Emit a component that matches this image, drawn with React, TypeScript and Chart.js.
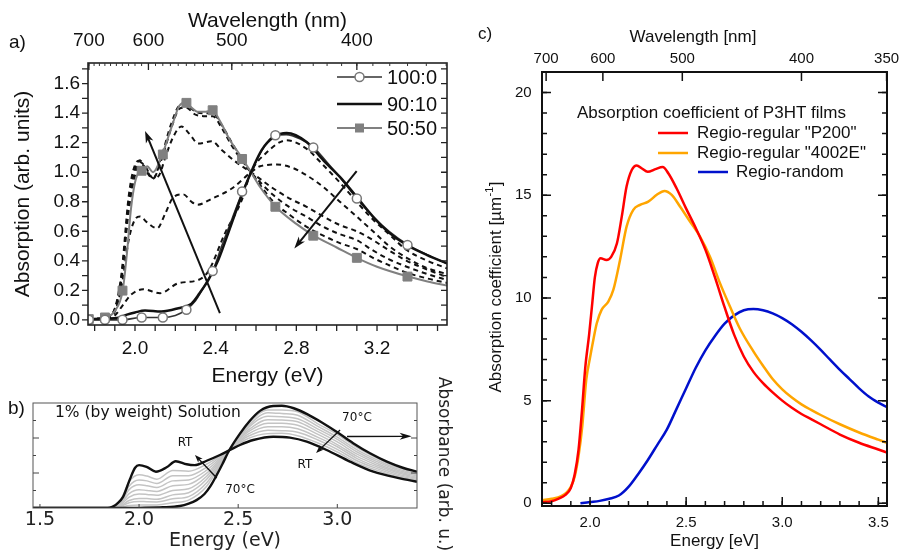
import React, { useEffect, useRef } from 'react';
import { Chart, registerables } from 'chart.js';

Chart.register(...registerables);

const FA = '"Liberation Sans", Arial, Helvetica, sans-serif';
const FB = '"DejaVu Sans", Verdana, sans-serif';
const HC = 1240; // eV*nm, used only to place wavelength ticks

// ================= Panel a data =================
const aTopWavelengths = [700, 600, 500, 400];
const aEnergyTicks = [2.0, 2.4, 2.8, 3.2];
const aAbsTicks = [0.0, 0.2, 0.4, 0.6, 0.8, 1.0, 1.2, 1.4, 1.6];

const aE_100_0 = [1.767, 1.85, 1.94, 2.03, 2.135, 2.2, 2.253, 2.3, 2.34, 2.385, 2.43, 2.48, 2.534, 2.58, 2.63, 2.694, 2.75, 2.82, 2.887, 2.95, 3.02, 3.099, 3.18, 3.26, 3.355, 3.45, 3.547];
const aV_100_0 = [0.0, 0.0, 0.0, 0.016, 0.016, 0.03, 0.068, 0.13, 0.22, 0.33, 0.5, 0.68, 0.87, 1.01, 1.15, 1.25, 1.255, 1.225, 1.167, 1.07, 0.96, 0.822, 0.7, 0.6, 0.507, 0.44, 0.38];
const aMarkE = [1.771, 1.851, 1.938, 2.033, 2.138, 2.255, 2.385, 2.531, 2.696, 2.884, 3.1, 3.351];
const aMarkV_100_0 = [0.0, 0.0, 0.0, 0.016, 0.016, 0.068, 0.33, 0.87, 1.25, 1.167, 0.822, 0.507];
const aMarkV_50_50 = [0.005, 0.016, 0.198, 1.01, 1.12, 1.47, 1.42, 1.09, 0.766, 0.57, 0.42, 0.293];

const aE_90_10 = [1.767, 1.85, 1.92, 1.96, 2.0, 2.05, 2.13, 2.215, 2.28, 2.32, 2.364, 2.413, 2.479, 2.545, 2.628, 2.69, 2.752, 2.851, 2.934, 3.016, 3.099, 3.181, 3.264, 3.347, 3.446, 3.547];
const aV_90_10 = [0.005, 0.008, 0.015, 0.035, 0.05, 0.063, 0.056, 0.079, 0.11, 0.18, 0.27, 0.405, 0.653, 0.9, 1.15, 1.24, 1.266, 1.205, 1.08, 0.968, 0.833, 0.698, 0.586, 0.507, 0.44, 0.383];

const aE_50_50 = [1.767, 1.851, 1.9, 1.939, 1.96, 1.98, 2.0, 2.02, 2.041, 2.06, 2.09, 2.135, 2.18, 2.22, 2.248, 2.27, 2.31, 2.35, 2.385, 2.42, 2.47, 2.534, 2.575, 2.62, 2.698, 2.8, 2.887, 3.0, 3.099, 3.2, 3.355, 3.45, 3.547];
const aV_50_50 = [0.005, 0.016, 0.06, 0.198, 0.45, 0.75, 0.93, 1.0, 1.01, 1.04, 1.0, 1.12, 1.3, 1.45, 1.47, 1.45, 1.41, 1.41, 1.42, 1.35, 1.22, 1.09, 1.0, 0.9, 0.766, 0.65, 0.57, 0.49, 0.42, 0.36, 0.293, 0.26, 0.232];

const aE_d5 = [1.767, 1.85, 1.9, 1.94, 1.98, 2.041, 2.124, 2.215, 2.314, 2.364, 2.446, 2.529, 2.575, 2.65, 2.752, 2.85, 2.934, 3.016, 3.099, 3.18, 3.26, 3.347, 3.45, 3.547];
const aV_d5 = [0.005, 0.01, 0.03, 0.1, 0.17, 0.207, 0.18, 0.248, 0.27, 0.33, 0.586, 0.81, 1.0, 1.13, 1.216, 1.16, 1.047, 0.93, 0.8, 0.68, 0.58, 0.473, 0.4, 0.349];

const aE_d4 = [1.767, 1.88, 1.93, 1.97, 2.0, 2.025, 2.06, 2.11, 2.15, 2.19, 2.24, 2.28, 2.31, 2.38, 2.48, 2.575, 2.62, 2.703, 2.78, 2.85, 2.934, 3.016, 3.099, 3.18, 3.26, 3.347, 3.45, 3.547];
const aV_d4 = [0.005, 0.02, 0.2, 0.55, 0.68, 0.7, 0.66, 0.62, 0.72, 0.83, 0.85, 0.8, 0.78, 0.82, 0.89, 1.0, 1.04, 1.052, 1.03, 0.98, 0.9, 0.8, 0.7, 0.6, 0.5, 0.42, 0.35, 0.31];

const aE_d3 = [1.767, 1.88, 1.93, 1.97, 2.0, 2.025, 2.05, 2.09, 2.12, 2.15, 2.19, 2.23, 2.27, 2.314, 2.38, 2.43, 2.5, 2.575, 2.686, 2.77, 2.851, 2.934, 3.016, 3.099, 3.18, 3.26, 3.347, 3.45, 3.547];
const aV_d3 = [0.005, 0.03, 0.25, 0.75, 0.98, 1.07, 1.04, 0.96, 0.98, 1.1, 1.24, 1.31, 1.26, 1.194, 1.21, 1.15, 1.07, 1.0, 0.89, 0.82, 0.766, 0.7, 0.642, 0.6, 0.54, 0.47, 0.4, 0.34, 0.29];

const aE_d2 = [1.767, 1.88, 1.93, 1.97, 2.0, 2.025, 2.05, 2.09, 2.13, 2.18, 2.22, 2.25, 2.3, 2.34, 2.385, 2.43, 2.48, 2.534, 2.575, 2.686, 2.77, 2.851, 2.934, 3.016, 3.099, 3.18, 3.26, 3.347, 3.45, 3.547];
const aV_d2 = [0.005, 0.03, 0.25, 0.8, 1.02, 1.08, 1.03, 0.96, 1.08, 1.3, 1.43, 1.44, 1.39, 1.38, 1.38, 1.3, 1.18, 1.07, 1.0, 0.845, 0.76, 0.698, 0.63, 0.58, 0.54, 0.47, 0.41, 0.36, 0.31, 0.27];

const aE_d1 = [1.767, 1.88, 1.93, 1.97, 2.0, 2.025, 2.05, 2.09, 2.13, 2.18, 2.22, 2.25, 2.3, 2.34, 2.385, 2.43, 2.48, 2.534, 2.575, 2.686, 2.768, 2.851, 2.934, 3.016, 3.099, 3.18, 3.26, 3.347, 3.45, 3.547];
const aV_d1 = [0.005, 0.03, 0.28, 0.85, 1.05, 1.08, 1.02, 0.957, 1.1, 1.33, 1.45, 1.46, 1.41, 1.4, 1.4, 1.32, 1.2, 1.08, 1.0, 0.8, 0.71, 0.63, 0.57, 0.52, 0.48, 0.42, 0.37, 0.32, 0.28, 0.25];

const aLegendLabels = ['100:0', '90:10', '50:50'];

// ================= Panel b data =================
const bEnergyTicks = [1.5, 2.0, 2.5, 3.0];
const bE_RT = [1.465, 1.83, 1.853, 1.87, 1.887, 1.92, 1.954, 1.98, 2.0, 2.038, 2.085, 2.139, 2.185, 2.24, 2.28, 2.341, 2.408, 2.459, 2.509, 2.576, 2.677, 2.761, 2.846, 2.946, 3.064, 3.182, 3.316, 3.402];
const bV_RT = [0, 0, 0.005, 0.02, 0.045, 0.13, 0.33, 0.46, 0.49, 0.47, 0.415, 0.465, 0.535, 0.5, 0.49, 0.54, 0.606, 0.663, 0.72, 0.777, 0.815, 0.804, 0.758, 0.663, 0.53, 0.415, 0.339, 0.3];
const bE_70C = [1.465, 1.9, 2.0, 2.12, 2.206, 2.25, 2.29, 2.33, 2.36, 2.39, 2.42, 2.455, 2.509, 2.56, 2.61, 2.677, 2.72, 2.78, 2.85, 2.92, 3.0, 3.08, 3.165, 3.25, 3.33, 3.402];
const bV_70C = [0, 0, 0.002, 0.008, 0.023, 0.05, 0.09, 0.16, 0.25, 0.37, 0.5, 0.66, 0.85, 1.0, 1.11, 1.165, 1.168, 1.14, 1.07, 0.98, 0.865, 0.74, 0.625, 0.53, 0.46, 0.415];
const bE_gray = [1.85, 1.9, 1.95, 2.0, 2.04, 2.09, 2.17, 2.25, 2.34, 2.45, 2.55, 2.65, 2.72, 2.8, 2.9, 3.0, 3.1, 3.2, 3.3, 3.402];
const bV_gray1 = [0, 0.055, 0.3, 0.38, 0.365, 0.33, 0.43, 0.42, 0.5, 0.66, 0.795, 0.85, 0.853, 0.825, 0.745, 0.64, 0.515, 0.43, 0.36, 0.31];
const bV_gray2 = [0, 0.045, 0.25, 0.32, 0.31, 0.28, 0.37, 0.37, 0.465, 0.66, 0.82, 0.89, 0.884, 0.865, 0.78, 0.67, 0.54, 0.45, 0.375, 0.325];
const bV_gray3 = [0, 0.037, 0.21, 0.265, 0.255, 0.235, 0.31, 0.32, 0.43, 0.655, 0.845, 0.93, 0.93, 0.905, 0.81, 0.7, 0.565, 0.47, 0.39, 0.34];
const bV_gray4 = [0, 0.03, 0.165, 0.21, 0.2, 0.19, 0.255, 0.27, 0.395, 0.655, 0.87, 0.97, 0.968, 0.945, 0.845, 0.725, 0.59, 0.49, 0.405, 0.35];
const bV_gray5 = [0, 0.022, 0.125, 0.16, 0.155, 0.145, 0.2, 0.22, 0.36, 0.655, 0.89, 1.01, 1.006, 0.985, 0.875, 0.755, 0.615, 0.51, 0.42, 0.365];
const bV_gray6 = [0, 0.016, 0.085, 0.11, 0.108, 0.1, 0.15, 0.175, 0.325, 0.65, 0.915, 1.05, 1.044, 1.02, 0.905, 0.785, 0.64, 0.53, 0.435, 0.38];
const bV_gray7 = [0, 0.01, 0.06, 0.075, 0.072, 0.07, 0.105, 0.13, 0.285, 0.65, 0.935, 1.09, 1.08, 1.06, 0.935, 0.81, 0.665, 0.55, 0.45, 0.39];
const bV_gray8 = [0, 0.005, 0.028, 0.035, 0.035, 0.035, 0.06, 0.09, 0.245, 0.65, 0.96, 1.12, 1.12, 1.1, 0.965, 0.84, 0.69, 0.57, 0.465, 0.405];

// ================= Panel c data =================
const cTopWavelengths = [700, 600, 500, 400, 350];
const cEnergyTicks = [2.0, 2.5, 3.0, 3.5];
const cAbsTicks = [0, 5, 10, 15, 20];
const cE_P200 = [1.75, 1.8, 1.84, 1.87, 1.9, 1.92, 1.94, 1.957, 1.975, 1.995, 2.01, 2.025, 2.04, 2.055, 2.085, 2.11, 2.14, 2.165, 2.19, 2.217, 2.243, 2.27, 2.3, 2.34, 2.378, 2.407, 2.45, 2.5, 2.55, 2.6, 2.65, 2.7, 2.75, 2.8, 2.85, 2.9, 2.95, 3.0, 3.05, 3.1, 3.15, 3.2, 3.3, 3.4, 3.5, 3.545];
const cV_P200 = [0.05, 0.1, 0.24, 0.4, 0.75, 1.4, 2.6, 4.4, 6.6, 8.2, 9.6, 11.0, 11.7, 11.93, 11.85, 12.0, 12.66, 13.96, 15.42, 16.23, 16.45, 16.3, 16.14, 16.27, 16.37, 16.07, 15.34, 14.35, 13.4, 12.35, 11.0, 9.55, 8.2, 7.15, 6.4, 5.85, 5.4, 5.0, 4.65, 4.35, 4.1, 3.85, 3.35, 2.95, 2.62, 2.47];
const cE_4002E = [1.75, 1.8, 1.85, 1.88, 1.9, 1.92, 1.94, 1.96, 1.98, 2.0, 2.02, 2.035, 2.06, 2.095, 2.121, 2.156, 2.19, 2.225, 2.26, 2.303, 2.347, 2.387, 2.425, 2.468, 2.52, 2.572, 2.624, 2.676, 2.728, 2.78, 2.85, 2.9, 2.95, 3.0, 3.05, 3.1, 3.15, 3.2, 3.3, 3.4, 3.5, 3.545];
const cV_4002E = [0.15, 0.22, 0.35, 0.55, 0.8, 1.3, 2.3, 3.8, 6.0, 7.1, 8.1, 8.77, 9.42, 9.82, 10.39, 11.85, 13.47, 14.29, 14.53, 14.69, 15.02, 15.21, 15.02, 14.45, 13.72, 12.99, 12.01, 10.72, 9.58, 8.5, 7.4, 6.7, 6.05, 5.55, 5.15, 4.82, 4.55, 4.3, 3.85, 3.45, 3.1, 2.95];
const cE_RRa = [1.95, 2.0, 2.05, 2.1, 2.15, 2.2, 2.25, 2.3, 2.35, 2.4, 2.45, 2.5, 2.55, 2.6, 2.65, 2.7, 2.75, 2.8, 2.85, 2.9, 2.95, 3.0, 3.05, 3.1, 3.15, 3.2, 3.25, 3.3, 3.35, 3.4, 3.45, 3.5, 3.544];
const cV_RRa = [0.0, 0.06, 0.12, 0.22, 0.38, 0.8, 1.42, 2.1, 2.85, 3.6, 4.6, 5.6, 6.6, 7.45, 8.15, 8.75, 9.15, 9.4, 9.46, 9.4, 9.25, 9.02, 8.72, 8.35, 7.93, 7.47, 6.98, 6.5, 6.05, 5.6, 5.2, 4.9, 4.68];
const cLegendTitle = 'Absorption coefficient of P3HT films';
const cLegendLabels = ['Regio-regular "P200"', 'Regio-regular "4002E"', 'Regio-random'];

// ================= helpers =================
const zip = (xs: number[], ys: number[]) => xs.map((x, i) => ({ x, y: ys[i] }));
const setTicks = (vals: number[]) => (s: any) => { s.ticks = vals.map((v) => ({ value: v })); };
const fix = (size: number, horizontal: boolean) => (s: any) => {
  if (horizontal) s.height = size; else s.width = size;
  s.paddingLeft = 0; s.paddingRight = 0; s.paddingTop = 0; s.paddingBottom = 0;
};
const lineDs = (xs: number[], ys: number[], color: string, width: number, dash: number[] = []) => ({
  data: zip(xs, ys), showLine: true, borderColor: color, borderWidth: width, borderDash: dash,
  pointRadius: 0, pointHoverRadius: 0, cubicInterpolationMode: 'monotone', fill: false,
});
const markDs = (xs: number[], ys: number[], style: string, r: number, fillC: string, strokeC: string, bw: number) => ({
  data: zip(xs, ys), showLine: false, pointStyle: style, pointRadius: r, pointHoverRadius: r,
  pointBackgroundColor: fillC, pointBorderColor: strokeC, pointBorderWidth: bw,
});
const noGrid = { display: false, drawTicks: false };
const noBorder = { display: false };
const range = (a: number, b: number, step: number) => {
  const out: number[] = [];
  for (let v = a; v <= b + 1e-9; v += step) out.push(Math.round(v * 1000) / 1000);
  return out;
};

function tickMarks(chart: any, scaleId: string, edge: string, values: number[], len: number, outward: boolean, lw: number, color: string) {
  const ctx = chart.ctx; const s = chart.scales[scaleId]; const a = chart.chartArea;
  ctx.save(); ctx.strokeStyle = color; ctx.lineWidth = lw; ctx.beginPath();
  for (const v of values) {
    if (v < s.min || v > s.max) continue;
    const p = s.getPixelForValue(v);
    if (edge === 'bottom') { ctx.moveTo(p, a.bottom); ctx.lineTo(p, a.bottom + (outward ? len : -len)); }
    else if (edge === 'top') { ctx.moveTo(p, a.top); ctx.lineTo(p, a.top + (outward ? -len : len)); }
    else if (edge === 'left') { ctx.moveTo(a.left, p); ctx.lineTo(a.left + (outward ? -len : len), p); }
    else { ctx.moveTo(a.right, p); ctx.lineTo(a.right + (outward ? len : -len), p); }
  }
  ctx.stroke(); ctx.restore();
}
function frame(chart: any, lw: number, color: string) {
  const ctx = chart.ctx; const a = chart.chartArea;
  ctx.save(); ctx.strokeStyle = color; ctx.lineWidth = lw;
  ctx.strokeRect(a.left, a.top, a.right - a.left, a.bottom - a.top); ctx.restore();
}
function arrowPx(ctx: any, x1: number, y1: number, x2: number, y2: number, lw: number, hl: number, hw: number, color: string) {
  const ang = Math.atan2(y2 - y1, x2 - x1);
  ctx.save(); ctx.strokeStyle = color; ctx.fillStyle = color; ctx.lineWidth = lw;
  ctx.beginPath(); ctx.moveTo(x1, y1); ctx.lineTo(x2 - Math.cos(ang) * hl * 0.6, y2 - Math.sin(ang) * hl * 0.6); ctx.stroke();
  ctx.translate(x2, y2); ctx.rotate(ang);
  ctx.beginPath(); ctx.moveTo(0, 0); ctx.lineTo(-hl, -hw / 2); ctx.lineTo(-hl * 0.72, 0); ctx.lineTo(-hl, hw / 2); ctx.closePath(); ctx.fill();
  ctx.restore();
}
function arrowData(chart: any, x1: number, y1: number, x2: number, y2: number, lw: number, hl: number, hw: number, color: string) {
  const sx = chart.scales.x; const sy = chart.scales.y;
  arrowPx(chart.ctx, sx.getPixelForValue(x1), sy.getPixelForValue(y1), sx.getPixelForValue(x2), sy.getPixelForValue(y2), lw, hl, hw, color);
}
function txt(ctx: any, s: string, x: number, y: number, font: string, align: string = 'left', color: string = '#111', rot: number = 0) {
  ctx.save(); ctx.translate(x, y); if (rot) ctx.rotate(rot);
  ctx.font = font; ctx.fillStyle = color; ctx.textAlign = align; ctx.textBaseline = 'middle';
  ctx.fillText(s, 0, 0); ctx.restore();
}
function txtData(chart: any, s: string, xv: number, yv: number, font: string, align: string = 'center') {
  txt(chart.ctx, s, chart.scales.x.getPixelForValue(xv), chart.scales.y.getPixelForValue(yv), font, align);
}

// ================= Panel a config =================
function cfgA(): any {
  const xmin = 1.767, xmax = 3.547;
  const decor = {
    id: 'decorA',
    afterDraw(chart: any) {
      const ctx = chart.ctx;
      frame(chart, 1.6, '#222');
      tickMarks(chart, 'y', 'left', range(0, 1.7, 0.1), 6, true, 1.3, '#222');
      tickMarks(chart, 'y', 'right', range(0, 1.7, 0.1), 6, false, 1.3, '#222');
      tickMarks(chart, 'x', 'bottom', range(1.8, 3.5, 0.1), 6, true, 1.3, '#222');
      tickMarks(chart, 'x', 'top', range(350, 700, 10).map((w) => HC / w), 3, false, 1, '#333');
      tickMarks(chart, 'x', 'top', aTopWavelengths.map((w) => HC / w), 7, false, 1.3, '#222');
      arrowData(chart, 2.421, 0.045, 2.05, 1.28, 2, 12, 8, '#111');
      arrowData(chart, 3.099, 1.007, 2.79, 0.484, 2, 12, 8, '#111');
      txt(ctx, 'a)', 9, 43, `19px ${FA}`, 'left');
      // legend
      const lx1 = 337, lx2 = 382, mx = 359.5, tx = 387;
      const ys = [77, 104, 128];
      ctx.save();
      ctx.strokeStyle = '#333'; ctx.lineWidth = 1.6; ctx.beginPath(); ctx.moveTo(lx1, ys[0]); ctx.lineTo(lx2, ys[0]); ctx.stroke();
      ctx.fillStyle = '#fff'; ctx.strokeStyle = '#777'; ctx.lineWidth = 1.5; ctx.beginPath(); ctx.arc(mx, ys[0], 4.5, 0, Math.PI * 2); ctx.fill(); ctx.stroke();
      ctx.strokeStyle = '#111'; ctx.lineWidth = 2.5; ctx.beginPath(); ctx.moveTo(lx1, ys[1]); ctx.lineTo(lx2, ys[1]); ctx.stroke();
      ctx.strokeStyle = '#808080'; ctx.lineWidth = 2; ctx.beginPath(); ctx.moveTo(lx1, ys[2]); ctx.lineTo(lx2, ys[2]); ctx.stroke();
      ctx.fillStyle = '#808080'; ctx.fillRect(mx - 4.5, ys[2] - 4.5, 9, 9);
      ctx.restore();
      aLegendLabels.forEach((l, i) => txt(ctx, l, tx, ys[i] + 1, `20px ${FA}`, 'left'));
    },
  };
  return {
    type: 'scatter',
    data: {
      datasets: [
        markDs(aMarkE, aMarkV_100_0, 'circle', 4.5, '#ffffff', '#777777', 1.5),
        markDs(aMarkE, aMarkV_50_50, 'rect', 6.3, '#808080', '#808080', 1),
        lineDs(aE_90_10, aV_90_10, '#111111', 2.5),
        lineDs(aE_100_0, aV_100_0, '#333333', 1.6),
        lineDs(aE_50_50, aV_50_50, '#808080', 2),
        lineDs(aE_d5, aV_d5, '#111111', 2, [5, 4]),
        lineDs(aE_d4, aV_d4, '#111111', 2, [5, 4]),
        lineDs(aE_d3, aV_d3, '#111111', 2, [5, 4]),
        lineDs(aE_d2, aV_d2, '#111111', 2, [5, 4]),
        lineDs(aE_d1, aV_d1, '#111111', 2, [5, 4]),
      ],
    },
    options: {
      animation: false, responsive: false, maintainAspectRatio: false, events: [],
      layout: { padding: { left: 0, right: 18, top: 0, bottom: 0 }, autoPadding: false },
      plugins: { legend: { display: false }, tooltip: { enabled: false } },
      scales: {
        x: {
          type: 'linear', position: 'bottom', min: xmin, max: xmax, grid: noGrid, border: noBorder,
          afterBuildTicks: setTicks(aEnergyTicks), afterFit: fix(65, true),
          ticks: { callback: (v: any) => Number(v).toFixed(1), font: { family: FA, size: 19 }, color: '#111', padding: 12.6, maxRotation: 0, autoSkip: false },
          title: { display: true, text: 'Energy (eV)', font: { family: FA, size: 21 }, color: '#111', padding: { top: 0, bottom: 1.4 } },
        },
        xTop: {
          type: 'linear', position: 'top', min: xmin, max: xmax, grid: noGrid, border: noBorder,
          afterBuildTicks: setTicks(aTopWavelengths.map((w) => HC / w)), afterFit: fix(63, true),
          ticks: { callback: (v: any) => String(Math.round(HC / Number(v))), font: { family: FA, size: 19 }, color: '#111', padding: 10.6, maxRotation: 0, autoSkip: false },
          title: { display: true, text: 'Wavelength (nm)', font: { family: FA, size: 21 }, color: '#111', padding: { top: 8.4, bottom: 0 } },
        },
        y: {
          type: 'linear', position: 'left', min: -0.035, max: 1.74, grid: noGrid, border: noBorder,
          afterBuildTicks: setTicks(aAbsTicks), afterFit: fix(88, false),
          ticks: { callback: (v: any) => Number(v).toFixed(1), font: { family: FA, size: 19 }, color: '#111', padding: 8, autoSkip: false },
          title: { display: true, text: 'Absorption (arb. units)', font: { family: FA, size: 21 }, color: '#111', padding: { top: 10.4, bottom: 0 } },
        },
      },
    },
    plugins: [decor],
  };
}

// ================= Panel b config =================
function cfgB(): any {
  const xmin = 1.465, xmax = 3.402;
  const decor = {
    id: 'decorB',
    afterDraw(chart: any) {
      const ctx = chart.ctx;
      frame(chart, 1, '#555');
      tickMarks(chart, 'y', 'left', [0.2, 0.6, 1.0], 3, false, 1, '#444');
      tickMarks(chart, 'y', 'left', [0.4, 0.8], 6, false, 1, '#444');
      tickMarks(chart, 'y', 'right', [0.2, 0.6, 1.0], 3, false, 1, '#444');
      tickMarks(chart, 'y', 'right', [0.4, 0.8], 6, false, 1, '#444');
      tickMarks(chart, 'x', 'bottom', bEnergyTicks, 4, false, 1, '#444');
      arrowData(chart, 2.392, 0.343, 2.282, 0.606, 1.3, 8, 6, '#111');
      arrowData(chart, 3.014, 0.891, 2.893, 0.629, 1.3, 8, 6, '#111');
      arrowData(chart, 3.049, 0.817, 3.375, 0.82, 1.3, 12, 7, '#111');
      txtData(chart, 'RT', 2.232, 0.743, `12px ${FB}`);
      txtData(chart, '70°C', 2.509, 0.206, `12px ${FB}`);
      txtData(chart, '70°C', 3.099, 1.029, `12px ${FB}`);
      txtData(chart, 'RT', 2.837, 0.491, `12px ${FB}`);
      txt(ctx, '1% (by weight) Solution', 55, 41, `15.5px ${FB}`, 'left');
      txt(ctx, 'b)', 8, 37, `19px ${FA}`, 'left');
      txt(ctx, 'Absorbance (arb. u.)', 443, 92, `17px ${FB}`, 'center', '#222', Math.PI / 2);
    },
  };
  const gray = '#c4c4c4';
  return {
    type: 'scatter',
    data: {
      datasets: [
        lineDs(bE_RT, bV_RT, '#111111', 2.4),
        lineDs(bE_70C, bV_70C, '#111111', 2.4),
        lineDs(bE_gray, bV_gray1, gray, 1.5),
        lineDs(bE_gray, bV_gray2, gray, 1.5),
        lineDs(bE_gray, bV_gray3, gray, 1.5),
        lineDs(bE_gray, bV_gray4, gray, 1.5),
        lineDs(bE_gray, bV_gray5, gray, 1.5),
        lineDs(bE_gray, bV_gray6, gray, 1.5),
        lineDs(bE_gray, bV_gray7, gray, 1.5),
        lineDs(bE_gray, bV_gray8, gray, 1.5),
      ],
    },
    options: {
      animation: false, responsive: false, maintainAspectRatio: false, events: [],
      layout: { padding: { left: 0, right: 48, top: 31, bottom: 0 }, autoPadding: false },
      plugins: { legend: { display: false }, tooltip: { enabled: false } },
      scales: {
        x: {
          type: 'linear', position: 'bottom', min: xmin, max: xmax, grid: noGrid, border: noBorder,
          afterBuildTicks: setTicks(bEnergyTicks), afterFit: fix(44, true),
          ticks: { callback: (v: any) => Number(v).toFixed(1), font: { family: FB, size: 19 }, color: '#222', padding: 1.1, maxRotation: 0, autoSkip: false },
          title: { display: true, text: 'Energy (eV)', font: { family: FB, size: 19 }, color: '#222', padding: { top: 0, bottom: 0 } },
        },
        y: {
          type: 'linear', position: 'left', min: 0, max: 1.2, grid: noGrid, border: noBorder,
          afterFit: fix(33, false), ticks: { display: false },
        },
      },
    },
    plugins: [decor],
  };
}

// ================= Panel c config =================
function cfgC(): any {
  const xmin = 1.75, xmax = 3.545;
  const decor = {
    id: 'decorC',
    afterDraw(chart: any) {
      const ctx = chart.ctx;
      frame(chart, 2, '#111');
      tickMarks(chart, 'y', 'left', range(0, 20, 1), 5, false, 1.5, '#111');
      tickMarks(chart, 'y', 'left', cAbsTicks, 9, false, 1.5, '#111');
      tickMarks(chart, 'y', 'right', range(0, 20, 1), 5, false, 1.5, '#111');
      tickMarks(chart, 'y', 'right', cAbsTicks, 9, false, 1.5, '#111');
      tickMarks(chart, 'x', 'bottom', range(1.8, 3.5, 0.1), 5, false, 1.5, '#111');
      tickMarks(chart, 'x', 'bottom', cEnergyTicks, 9, false, 1.5, '#111');
      tickMarks(chart, 'x', 'top', cTopWavelengths.map((w) => HC / w), 9, false, 1.5, '#111');
      txt(ctx, 'c)', 8, 34, `17px ${FA}`, 'left');
      txt(ctx, 'Wavelength [nm]', 223, 37, `17px ${FA}`, 'center');
      // y title with superscript
      ctx.save();
      ctx.translate(26, 287); ctx.rotate(-Math.PI / 2);
      ctx.fillStyle = '#111'; ctx.textBaseline = 'middle'; ctx.textAlign = 'left';
      const main = 'Absorption coefficient [µm', sup = '-1', tail = ']';
      ctx.font = `17px ${FA}`; const w1 = ctx.measureText(main).width; const w3 = ctx.measureText(tail).width;
      ctx.font = `11px ${FA}`; const w2 = ctx.measureText(sup).width;
      const x0 = -(w1 + w2 + w3 + 1) / 2;
      ctx.font = `17px ${FA}`; ctx.fillText(main, x0, 0);
      ctx.font = `11px ${FA}`; ctx.fillText(sup, x0 + w1 + 0.5, -6);
      ctx.font = `17px ${FA}`; ctx.fillText(tail, x0 + w1 + w2 + 1, 0);
      ctx.restore();
      // legend
      txt(ctx, cLegendTitle, 107, 113, `17px ${FA}`, 'left');
      const colors = ['#ff0000', '#ffa500', '#0010cc'];
      const ly = [133, 153, 172];
      const lx = [[188, 218], [188, 218], [228, 258]];
      const tx = [227, 227, 266];
      colors.forEach((c, i) => {
        ctx.save(); ctx.strokeStyle = c; ctx.lineWidth = 2.5; ctx.beginPath();
        ctx.moveTo(lx[i][0], ly[i]); ctx.lineTo(lx[i][1], ly[i]); ctx.stroke(); ctx.restore();
        txt(ctx, cLegendLabels[i], tx[i], ly[i], `17px ${FA}`, 'left');
      });
    },
  };
  return {
    type: 'scatter',
    data: {
      datasets: [
        lineDs(cE_P200, cV_P200, '#ff0000', 2.5),
        lineDs(cE_4002E, cV_4002E, '#ffa500', 2.5),
        lineDs(cE_RRa, cV_RRa, '#0010cc', 2.5),
      ],
    },
    options: {
      animation: false, responsive: false, maintainAspectRatio: false, events: [],
      layout: { padding: { left: 0, right: 12, top: 0, bottom: 0 }, autoPadding: false },
      plugins: { legend: { display: false }, tooltip: { enabled: false } },
      scales: {
        x: {
          type: 'linear', position: 'bottom', min: xmin, max: xmax, grid: noGrid, border: noBorder,
          afterBuildTicks: setTicks(cEnergyTicks), afterFit: fix(46, true),
          ticks: { callback: (v: any) => Number(v).toFixed(1), font: { family: FA, size: 15 }, color: '#111', padding: 7.5, maxRotation: 0, autoSkip: false },
          title: { display: true, text: 'Energy [eV]', font: { family: FA, size: 17 }, color: '#111', padding: { top: 0, bottom: 0.8 } },
        },
        xTop: {
          type: 'linear', position: 'top', min: xmin, max: xmax, grid: noGrid, border: noBorder,
          afterBuildTicks: setTicks(cTopWavelengths.map((w) => HC / w)), afterFit: fix(72, true),
          ticks: { callback: (v: any) => String(Math.round(HC / Number(v))), font: { family: FA, size: 15 }, color: '#111', padding: 4, maxRotation: 0, autoSkip: false },
        },
        y: {
          type: 'linear', position: 'left', min: -0.13, max: 21, grid: noGrid, border: noBorder,
          afterBuildTicks: setTicks(cAbsTicks), afterFit: fix(72, false),
          ticks: { callback: (v: any) => String(v), font: { family: FA, size: 15 }, color: '#111', padding: 10.3, autoSkip: false },
        },
      },
    },
    plugins: [decor],
  };
}

export default function App() {
  const refA = useRef<HTMLCanvasElement>(null);
  const refB = useRef<HTMLCanvasElement>(null);
  const refC = useRef<HTMLCanvasElement>(null);
  useEffect(() => {
    const charts = [
      new Chart(refA.current as any, cfgA()),
      new Chart(refB.current as any, cfgB()),
      new Chart(refC.current as any, cfgC()),
    ];
    return () => charts.forEach((c) => c.destroy());
  }, []);
  return (
    <div style={{ position: 'absolute', left: 0, top: 0, width: 899, height: 552, background: '#ffffff', overflow: 'hidden' }}>
      <canvas ref={refA} width={465} height={390} style={{ position: 'absolute', left: 0, top: 0, width: 465, height: 390 }} />
      <canvas ref={refB} width={465} height={180} style={{ position: 'absolute', left: 0, top: 372, width: 465, height: 180 }} />
      <canvas ref={refC} width={429} height={552} style={{ position: 'absolute', left: 470, top: 0, width: 429, height: 552 }} />
    </div>
  );
}
